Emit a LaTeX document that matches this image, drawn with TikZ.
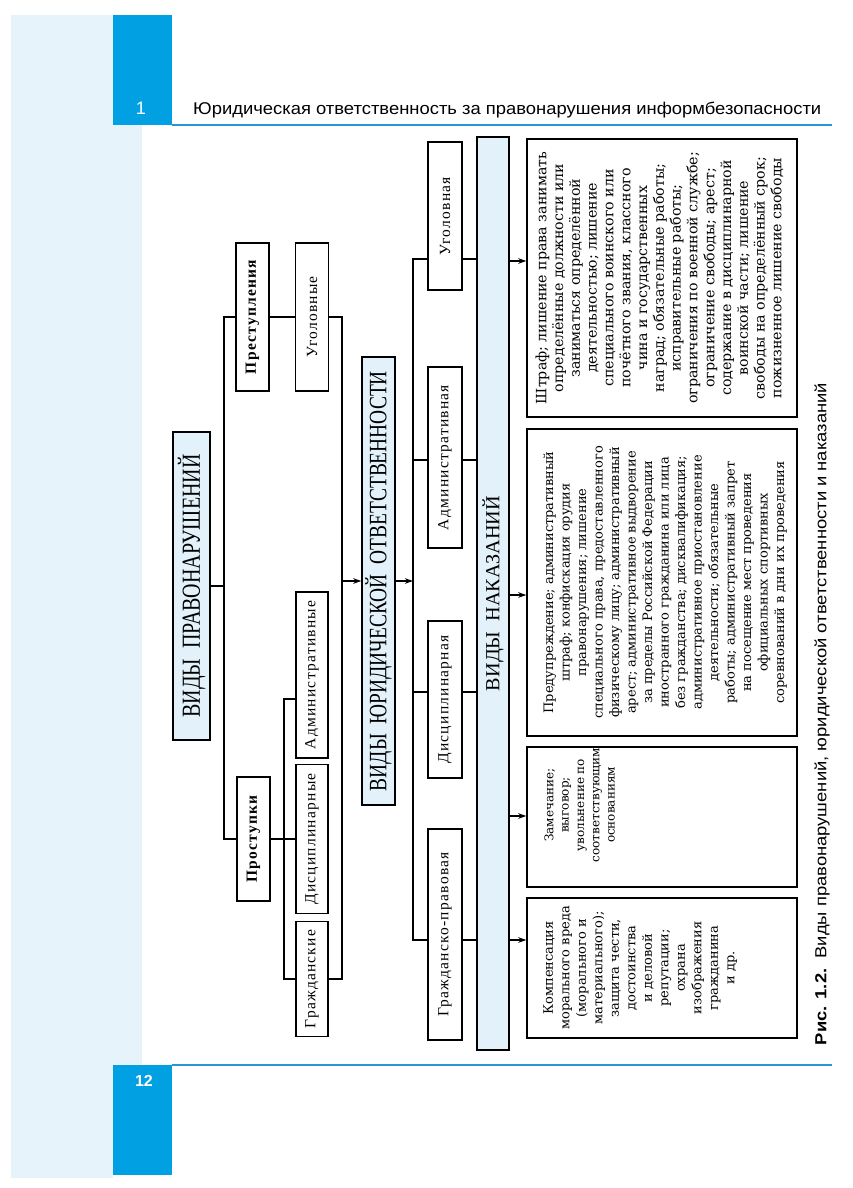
\documentclass[tikz,border=0pt]{standalone}
\usepackage{fontspec}
\usepackage{graphicx}
\usetikzlibrary{arrows.meta}
\newfontfamily\labfont{Liberation Serif}[LetterSpace=8]
\newfontfamily\ttlfont{Liberation Serif}
\newfontfamily\resfont{DejaVu Serif}
\newfontfamily\sansf{Liberation Sans}
\definecolor{tabblue}{RGB}{0,160,227}
\definecolor{stripbg}{RGB}{230,243,251}
\definecolor{boxbg}{RGB}{227,241,250}
\definecolor{rulecol}{RGB}{40,150,210}
\begin{document}
\begin{tikzpicture}[x=1pt,y=-1pt,
  lbl/.style={draw, line width=1.4pt, rotate=90, inner sep=0pt, font=\labfont\fontsize{15.5}{15.5}\selectfont},
  lblb/.style={lbl, font=\labfont\bfseries\fontsize{15.5}{15.5}\selectfont},
  ttl/.style={draw, line width=1.4pt, rotate=90, inner sep=0pt, fill=boxbg, font=\ttlfont},
  rbox/.style={draw, line width=1.4pt, rotate=90, inner sep=0pt, minimum height=270pt},
  rtxt/.style={rotate=90, inner sep=0pt, align=center, anchor=north, font=\resfont\fontsize{13}{16.5}\selectfont},
  con/.style={line width=1.3pt},
  arr/.style={con, -{Stealth[length=8pt,width=5.5pt]}}]
\useasboundingbox (0,0) rectangle (852,1188);
\fill[white] (0,0) rectangle (852,1188);
% page decoration
\fill[stripbg] (11,15) rectangle (113,1178);
\fill[stripbg] (113,125) rectangle (142,1065);
\fill[tabblue] (113,15) rectangle (172,125);
\fill[tabblue] (113,1065) rectangle (172,1175);
\draw[rulecol, line width=2pt] (172,125) -- (832,125);
\draw[rulecol, line width=2pt] (172,1065) -- (832,1065);
\node[text=white, font=\sansf\fontsize{18}{18}\selectfont] (chap) at (141,108) {1};
\node[anchor=base west, inner sep=0pt, font=\sansf\fontsize{17}{17}\selectfont] (head) at (193,115)
  {\resizebox{628pt}{\height}{Юридическая ответственность за правонарушения информбезопасности}};
\node[text=white, font=\sansf\bfseries\fontsize{16}{16}\selectfont] (pg) at (144,1081) {12};
\node[rotate=90, inner sep=0pt, font=\sansf\fontsize{16}{16}\selectfont] (cap) at (822,714)
  {\resizebox{662pt}{\height}{\textbf{Рис. 1.2.}\ \ Виды правонарушений, юридической ответственности и наказаний}};

% level 1
\node[ttl, minimum width=308pt, minimum height=37pt] (vp) at (191.5,586)
  {\resizebox{263pt}{\height}{\fontsize{26}{26}\selectfont ВИДЫ\ \ ПРАВОНАРУШЕНИЙ}};
% level 2
\node[lblb, minimum width=148pt, minimum height=33pt] (prest) at (252.5,317) {Преступления};
\node[lblb, minimum width=124pt, minimum height=33pt] (prost) at (253.5,839) {Проступки};
% level 3
\node[lbl, minimum width=148pt, minimum height=33pt] (ugol) at (312,317) {Уголовные};
\node[lbl, minimum width=166pt, minimum height=32pt] (adm) at (312,675) {Административные};
\node[lbl, minimum width=149pt, minimum height=32pt] (disc) at (312,839) {Дисциплинарные};
\node[lbl, minimum width=115pt, minimum height=32pt] (grazh) at (312,979) {Гражданские};
% level 4
\node[ttl, minimum width=448pt, minimum height=33pt] (vyu) at (378.5,581)
  {\resizebox{420pt}{\height}{\fontsize{25}{25}\selectfont ВИДЫ\ \ ЮРИДИЧЕСКОЙ\ \ ОТВЕТСТВЕННОСТИ}};
% level 5
\node[lbl, minimum width=148pt, minimum height=34pt] (k1) at (445,216) {Уголовная};
\node[lbl, minimum width=181pt, minimum height=34pt] (k2) at (445,457.5) {Административная};
\node[lbl, minimum width=157pt, minimum height=34pt] (k3) at (445,699.5) {Дисциплинарная};
\node[lbl, minimum width=211pt, minimum height=34pt] (k4) at (445,934.5) {Гражданско-правовая};
% level 6
\node[ttl, minimum width=913pt, minimum height=32pt] (vn) at (493,593.5)
  {\resizebox{195pt}{\height}{\fontsize{20}{20}\selectfont ВИДЫ\ \ НАКАЗАНИЙ}};
% results
\node[rbox, minimum width=278pt] (r1) at (662,278) {};
\node[rbox, minimum width=307pt] (r2) at (662,582.5) {};
\node[rbox, minimum width=140pt] (r3) at (662,817) {};
\node[rbox, minimum width=140pt] (r4) at (662,968) {};
\node[rtxt, font=\resfont\fontsize{14.2}{16.8}\selectfont] (t1) at ([xshift=9pt]r1.north) {Штраф; лишение права занимать\\
определённые должности или\\
заниматься определённой\\
деятельностью; лишение\\
специального воинского или\\
почётного звания, классного\\
чина и государственных\\
наград; обязательные работы;\\
исправительные работы;\\
ограничения по военной службе;\\
ограничение свободы; арест;\\
содержание в дисциплинарной\\
воинской части; лишение\\
свободы на определённый срок;\\
пожизненное лишение свободы};
\node[rtxt] (t2) at ([xshift=17pt]r2.north) {Предупреждение; административный\\
штраф; конфискация орудия\\
правонарушения; лишение\\
специального права, предоставленного\\
физическому лицу; административный\\
арест; административное выдворение\\
за пределы Российской Федерации\\
иностранного гражданина или лица\\
без гражданства; дисквалификация;\\
административное приостановление\\
деятельности; обязательные\\
работы; административный запрет\\
на посещение мест проведения\\
официальных спортивных\\
соревнований в дни их проведения};
\node[rtxt, font=\resfont\fontsize{12}{15.3}\selectfont] (t3) at ([xshift=18pt,yshift=12pt]r3.north) {Замечание;\\выговор;\\увольнение по\\соответствующим\\основаниям};
\node[rtxt] (t4) at ([xshift=17pt]r4.north) {Компенсация\\морального вреда\\(морального и\\материального);\\защита чести,\\достоинства\\и деловой\\репутации;\\охрана\\изображения\\гражданина\\и др.};

% connectors
\coordinate (b1) at (224,317);
\draw[con] (vp.south) -- (vp.south -| b1);
\draw[con] (prest.north) -- (b1) -- (b1 |- prost.north) -- (prost.north);
\draw[con] (prest.south) -- (ugol.north);
\draw[con] (prost.south) -- (disc.north);
\coordinate (b3) at (284,699);
\draw[con] (adm.north |- b3) -- (b3) -- (b3 |- grazh.north) -- (grazh.north);
\coordinate (b2) at (342,317);
\draw[con] (ugol.south) -- (b2) -- (b2 |- grazh.south) -- (grazh.south);
\draw[arr] (b2 |- vyu.north) -- (vyu.north);
\coordinate (b4) at (413,259);
\coordinate (l2) at (0,460);
\coordinate (l3) at (0,692);
\coordinate (l4) at (0,940);
\draw[con] (k1.north |- b4) -- (b4) -- (b4 |- l4) -- (k4.north |- l4);
\draw[con] (b4 |- l2) -- (k2.north |- l2);
\draw[con] (b4 |- l3) -- (k3.north |- l3);
\draw[arr] (vyu.south) -- (vyu.south -| b4);
\draw[con] (k1.south |- b4) -- (vn.north |- b4);
\draw[con] (k2.south |- l2) -- (vn.north |- l2);
\draw[con] (k3.south |- l3) -- (vn.north |- l3);
\draw[con] (k4.south |- l4) -- (vn.north |- l4);
\coordinate (a1) at (0,261);
\coordinate (a2) at (0,595);
\coordinate (a3) at (0,816);
\draw[arr] (vn.south |- a1) -- (r1.north |- a1);
\draw[arr] (vn.south |- a2) -- (r2.north |- a2);
\draw[arr] (vn.south |- a3) -- (r3.north |- a3);
\draw[arr] (vn.south |- l4) -- (r4.north |- l4);
\end{tikzpicture}
\end{document}
